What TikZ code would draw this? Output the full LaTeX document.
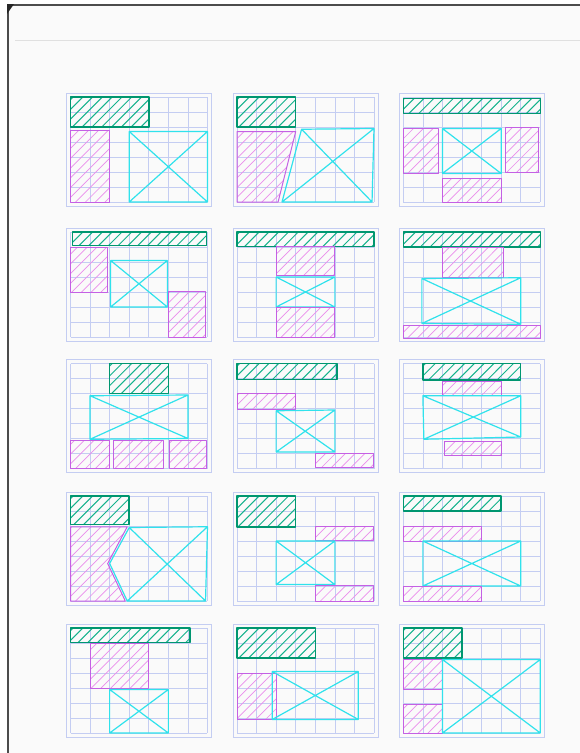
\documentclass[tikz,border=0pt]{standalone}

\definecolor{gridblue}{RGB}{196,205,242}
\definecolor{tealink}{RGB}{0,150,112}
\definecolor{tealhatch}{RGB}{20,178,140}
\definecolor{pinkink}{RGB}{196,96,228}
\definecolor{pinkhatch}{RGB}{234,140,236}
\definecolor{cyanink}{RGB}{48,226,236}

% hatched shape: outline style, hatch style, closed path
\newcommand\hatched[3]{%
  \begin{scope}
    \clip #3;
    \foreach \k in {-7,-6.5,...,7.5}
      \draw[#2] (\k,8) -- ++(6.13,-8);
  \end{scope}
  \draw[#1] #3;}
% crossed box: corners tl, tr, br, bl
\newcommand\xbox[4]{\draw[void] (#1) -- (#2) -- (#3) -- (#4) -- cycle (#1) -- (#3) (#2) -- (#4);}
% graph paper of one panel
\newcommand\sheet{%
  \draw[frame] (-0.2,-0.27) rectangle (7.2,7.27);
  \foreach \i in {0,...,7} {
    \draw[gridline] (\i,0) -- (\i,7);
    \draw[gridline] (0,\i) -- (7,\i);
  }}

\begin{document}
\begin{tikzpicture}[x=1pt,y=-1pt]
  \tikzset{
    gridline/.style={draw=gridblue,line width=0.6pt},
    frame/.style={draw=gridblue,line width=0.8pt},
    lid/.style={draw=tealink,line width=1.5pt,line join=round},
    lidhatch/.style={draw=tealhatch,line width=1pt},
    wall/.style={draw=pinkink,line width=1pt,line join=round},
    wallhatch/.style={draw=pinkhatch,line width=0.7pt},
    void/.style={draw=cyanink,line width=1.2pt,line join=round},
    panel/.style 2 args={shift={(#1,#2)},x=19.57pt,y=-15pt}
  }
  \useasboundingbox (0,0) rectangle (580,753);
  \fill[white] (0,0) rectangle (580,753);
  \fill[black!2] (8,5) rectangle (580,753);
  \draw[black!12,line width=0.6pt] (15,40) -- (580,40);
  \draw[black!70,line width=1.5pt] (8,5) -- (580,5);
  \draw[black!70,line width=2.5pt] (8,5) -- (8,753);
  \fill[black!85] (7,4) -- (14,4) -- (7,14) -- cycle;

  % row 1
  \begin{scope}[panel={70.5}{97}]
    \sheet
    \hatched{lid}{lidhatch}{(0,0) rectangle (4,2)}
    \hatched{wall}{wallhatch}{(0,2.2) rectangle (2,7)}
    \xbox{3,2.3}{7,2.3}{7,7}{3,7}
  \end{scope}
  \begin{scope}[panel={237}{97}]
    \sheet
    \hatched{lid}{lidhatch}{(0,0) rectangle (3,2)}
    \hatched{wall}{wallhatch}{(0,2.3) -- (3,2.3) -- (2.1,7) -- (0,7) -- cycle}
    \xbox{3.3,2.15}{7,2.1}{6.9,7}{2.3,7}
  \end{scope}
  \begin{scope}[panel={403.3}{97}]
    \sheet
    \hatched{lid}{lidhatch}{(0,0.1) rectangle (7,1.1)}
    \hatched{wall}{wallhatch}{(0,2.1) rectangle (1.8,5.1)}
    \xbox{2,2.1}{5,2.1}{5,5.1}{2,5.1}
    \hatched{wall}{wallhatch}{(5.2,2.05) rectangle (6.9,5.05)}
    \hatched{wall}{wallhatch}{(2,5.45) rectangle (5,7)}
  \end{scope}

  % row 2
  \begin{scope}[panel={70.5}{232}]
    \sheet
    \hatched{lid}{lidhatch}{(0.1,0) rectangle (6.95,0.9)}
    \hatched{wall}{wallhatch}{(0,1.05) rectangle (1.9,4)}
    \xbox{2.05,1.9}{4.95,1.9}{4.95,5}{2.05,5}
    \hatched{wall}{wallhatch}{(5,3.95) rectangle (6.9,7)}
  \end{scope}
  \begin{scope}[panel={237}{232}]
    \sheet
    \hatched{lid}{lidhatch}{(0,0) rectangle (7,0.95)}
    \hatched{wall}{wallhatch}{(2,0.95) rectangle (5,2.9)}
    \xbox{2,3}{5,3}{5,5}{2,5}
    \hatched{wall}{wallhatch}{(2,5.05) rectangle (5,7)}
  \end{scope}
  \begin{scope}[panel={403.3}{232}]
    \sheet
    \hatched{lid}{lidhatch}{(0,0) rectangle (7,1)}
    \hatched{wall}{wallhatch}{(2,1.05) rectangle (5.1,3)}
    \xbox{0.95,3.1}{6,3.05}{6,6.15}{0.95,6.1}
    \hatched{wall}{wallhatch}{(0,6.2) rectangle (7,7.1)}
  \end{scope}

  % row 3
  \begin{scope}[panel={70.5}{363.5}]
    \sheet
    \hatched{lid}{lidhatch}{(2,0) rectangle (5,2)}
    \xbox{1,2.15}{6,2.1}{6,5}{1,5.05}
    \hatched{wall}{wallhatch}{(0,5.1) rectangle (2,7)}
    \hatched{wall}{wallhatch}{(2.2,5.15) rectangle (4.75,7)}
    \hatched{wall}{wallhatch}{(5.05,5.15) rectangle (6.95,7)}
  \end{scope}
  \begin{scope}[panel={237}{363.5}]
    \sheet
    \hatched{lid}{lidhatch}{(0,0) rectangle (5.1,1.05)}
    \hatched{wall}{wallhatch}{(0,2) rectangle (3,3.05)}
    \xbox{2,3.15}{5,3.1}{5,5.9}{2,5.9}
    \hatched{wall}{wallhatch}{(4,6) rectangle (7,6.9)}
  \end{scope}
  \begin{scope}[panel={403.3}{363.5}]
    \sheet
    \hatched{lid}{lidhatch}{(1,0) rectangle (6,1.1)}
    \hatched{wall}{wallhatch}{(2,1.2) rectangle (5,2.1)}
    \xbox{1,2.15}{6,2.15}{6,4.9}{1.05,5.05}
    \hatched{wall}{wallhatch}{(2.1,5.2) rectangle (5,6.1)}
  \end{scope}

  % row 4
  \begin{scope}[panel={70.5}{496}]
    \sheet
    \hatched{lid}{lidhatch}{(0,0) rectangle (3,1.9)}
    \hatched{wall}{wallhatch}{(0,2.05) -- (2.9,2.05) -- (1.9,4.5) -- (2.8,7) -- (0,7) -- cycle}
    \draw[void] (3,2.1) -- (7,2.05) -- (6.9,7) -- (2.9,7) -- (2,4.5) -- cycle
      (3,2.1) -- (6.9,7) (7,2.05) -- (2.9,7);
  \end{scope}
  \begin{scope}[panel={237}{496}]
    \sheet
    \hatched{lid}{lidhatch}{(0,0) rectangle (3,2.05)}
    \hatched{wall}{wallhatch}{(4,2) rectangle (6.95,2.95)}
    \xbox{2,3}{5,3}{5,5.9}{2,5.9}
    \hatched{wall}{wallhatch}{(4,5.95) rectangle (7,7)}
  \end{scope}
  \begin{scope}[panel={403.3}{496}]
    \sheet
    \hatched{lid}{lidhatch}{(0,0) rectangle (5,1)}
    \hatched{wall}{wallhatch}{(0,2) rectangle (4,3)}
    \xbox{1,3}{6,3}{6,6}{1,6}
    \hatched{wall}{wallhatch}{(0,6) rectangle (4,7)}
  \end{scope}

  % row 5
  \begin{scope}[panel={70.5}{628}]
    \sheet
    \hatched{lid}{lidhatch}{(0,0) rectangle (6.1,0.95)}
    \hatched{wall}{wallhatch}{(1,1.05) rectangle (4,4)}
    \xbox{2,4.1}{5,4.1}{5,7}{2,7}
  \end{scope}
  \begin{scope}[panel={237}{628}]
    \sheet
    \hatched{lid}{lidhatch}{(0,0) rectangle (4,2)}
    \hatched{wall}{wallhatch}{(0,3) rectangle (2,6.1)}
    \xbox{1.8,2.9}{6.2,2.9}{6.2,6.1}{1.8,6.1}
  \end{scope}
  \begin{scope}[panel={403.3}{628}]
    \sheet
    \hatched{lid}{lidhatch}{(0,0) rectangle (3,2)}
    \hatched{wall}{wallhatch}{(0,2.1) rectangle (2,4.1)}
    \hatched{wall}{wallhatch}{(0,5.1) rectangle (2,7)}
    \xbox{2,2.1}{7,2.1}{7,7}{2,7}
  \end{scope}
\end{tikzpicture}
\end{document}
